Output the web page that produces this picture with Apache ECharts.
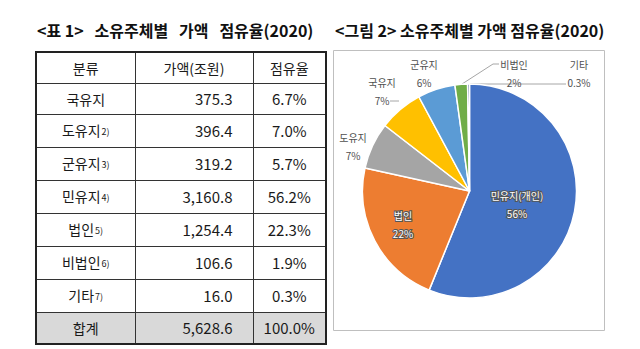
<!DOCTYPE html>
<html><head><meta charset="utf-8">
<script src="https://cdn.jsdelivr.net/npm/echarts@6/dist/echarts.min.js"></script>
<style>
html,body{margin:0;padding:0;background:#fff;width:640px;height:349px;overflow:hidden;font-family:"Noto Sans CJK KR","Noto Sans",sans-serif;}
#chart{position:absolute;left:0;top:0;width:640px;height:349px;}
#tbl{position:absolute;left:35px;top:51px;width:290px;border-collapse:collapse;table-layout:fixed;border:2px solid #222;}
#tbl td{border:1px solid #333;height:30px;padding:0;font-size:14px;color:#1a1a1a;text-align:center;line-height:30px;white-space:nowrap;}
#tbl td.num{text-align:right;padding-right:20px;font-size:15px;}
#tbl td.pct{font-size:15px;}
#tbl tr.total td{background:#d9d9d9;}
#tbl .fn{font-size:9px;vertical-align:1px;margin-left:1px;}
</style>
</head><body>
<div id="chart"></div>
<table id="tbl"><colgroup><col style="width:99px"><col style="width:118px"><col style="width:73px"></colgroup><tbody id="tbody"></tbody></table>
<script>
// ---- data ----
const tableTitle = '<표 1>   소유주체별   가액   점유율(2020)';
const chartTitle = '<그림 2> 소유주체별 가액 점유율(2020)';
const tableHeaders = ['분류', '가액(조원)', '점유율'];
const categories = ['국유지', '도유지', '군유지', '민유지', '법인', '비법인', '기타'];
const footnotes = ['', '2)', '3)', '4)', '5)', '6)', '7)'];
const valueLabels = ['375.3', '396.4', '319.2', '3,160.8', '1,254.4', '106.6', '16.0'];
const shareLabels = ['6.7%', '7.0%', '5.7%', '56.2%', '22.3%', '1.9%', '0.3%'];
const totalRow = ['합계', '5,628.6', '100.0%'];
const pieNames = ['민유지(개인)', '법인', '도유지', '국유지', '군유지', '비법인', '기타'];
const pieValues = [3160.8, 1254.4, 396.4, 375.3, 319.2, 106.6, 16.0];
const piePctLabels = ['56%', '22%', '7%', '7%', '6%', '2%', '0.3%'];

// ---- table ----
const tbody = document.getElementById('tbody');
let html = '<tr>' + tableHeaders.map((h) => '<td>' + h + '</td>').join('') + '</tr>';
categories.forEach((c, i) => {
  html += '<tr><td>' + c + (footnotes[i] ? '<span class="fn">' + footnotes[i] + '</span>' : '') +
    '</td><td class="num">' + valueLabels[i] + '</td><td class="pct">' + shareLabels[i] + '</td></tr>';
});
html += '<tr class="total"><td>' + totalRow[0] + '</td><td class="num">' + totalRow[1] + '</td><td class="pct">' + totalRow[2] + '</td></tr>';
tbody.innerHTML = html;

// ---- pie ----
const colors = ['#4472C4', '#ED7D31', '#A5A5A5', '#FFC000', '#5B9BD5', '#70AD47', '#264478'];
const inside = [true, true, false, false, false, false, false];
const showLine = [false, false, false, true, false, true, true];
const labelPos = [[517, 204], [403, 224.5], [353, 146], [382, 91], [424, 73], [514, 73], [579, 73]];
const linePts = {
  3: [[390, 101], [394, 101], [399, 101]],
  5: [[462, 84], [493, 64], [499, 64]],
  6: [[470, 84], [520, 84], [566, 84]]
};

const chart = echarts.init(document.getElementById('chart'), null, {renderer: 'svg'});
chart.setOption({
  animation: false,
  title: [
    {text: tableTitle, left: 37, top: 22, padding: 0,
     textStyle: {fontSize: 16, fontWeight: 'bold', color: '#111', fontFamily: 'Noto Sans CJK KR'}},
    {text: chartTitle, left: 335, top: 22, padding: 0,
     textStyle: {fontSize: 16, fontWeight: 'bold', color: '#111', fontFamily: 'Noto Sans CJK KR'}}
  ],
  graphic: [{type: 'rect', shape: {x: 333.5, y: 50.5, width: 271, height: 280},
    style: {fill: '#fff', stroke: '#bfbfbf', lineWidth: 1}, z: -1}],
  series: [{
    type: 'pie',
    center: [469.5, 191],
    radius: 107,
    startAngle: 90,
    clockwise: true,
    avoidLabelOverlap: false,
    itemStyle: {borderColor: '#fff', borderWidth: 1.5},
    labelLine: {lineStyle: {color: '#a6a6a6', width: 1}},
    labelLayout: function (p) {
      const i = p.dataIndex;
      const o = {x: labelPos[i][0], y: labelPos[i][1], align: 'center', verticalAlign: 'middle'};
      if (linePts[i]) o.labelLinePoints = linePts[i];
      return o;
    },
    data: pieNames.map((n, i) => ({
      name: n,
      value: pieValues[i],
      itemStyle: {color: colors[i]},
      label: inside[i]
        ? {show: true, position: 'inside', formatter: '{b}\n' + piePctLabels[i], color: '#fff',
           fontSize: 10, lineHeight: 18, textBorderColor: '#555', textBorderWidth: 2,
           fontFamily: 'Noto Sans CJK KR'}
        : {show: true, position: 'outside', formatter: '{b}\n' + piePctLabels[i], color: '#505050',
           fontSize: 10, lineHeight: 18, fontFamily: 'Noto Sans CJK KR'},
      labelLine: {show: showLine[i], length: 5, length2: 5}
    }))
  }]
});
</script>
</body></html>
